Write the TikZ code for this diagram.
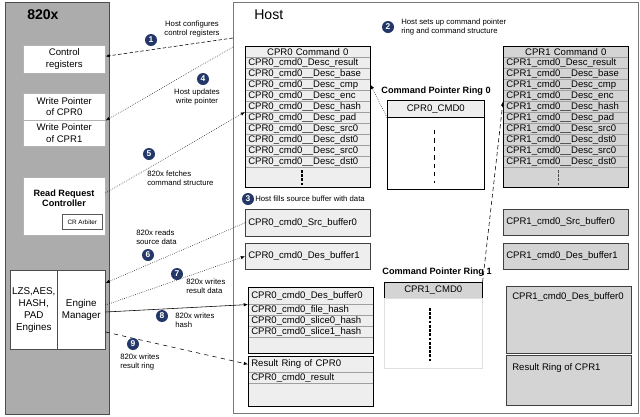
\documentclass[tikz,border=0pt]{standalone}
\usepackage{fontspec}
\setmainfont{Liberation Sans}
\usetikzlibrary{arrows.meta,calc}
\definecolor{chipgrey}{RGB}{172,172,172}
\definecolor{hostgrey}{RGB}{120,120,120}
\definecolor{cellgrey}{RGB}{238,238,238}
\definecolor{cellgreyB}{RGB}{212,212,212}
\definecolor{navy}{RGB}{35,55,105}

\begin{document}
\begin{tikzpicture}[x=0.025cm,y=-0.025cm]
    \tikzset{%
      box/.style={anchor=north west, inner sep=0pt, align=center},
      wbox/.style={box, draw=gray!60, fill=white,
        font=\fontsize{6.8}{8.2}\selectfont},
      cell/.style={anchor=north west, draw=gray!75, fill=cellgrey,
        inner xsep=0.075cm, inner ysep=0pt, minimum height=0.275cm,
        text width=2.975cm, align=left, font=\fontsize{6.8}{6.8}\selectfont},
      cellB/.style={cell, fill=cellgreyB},
      headcell/.style={cell, align=center},
      headcellB/.style={cellB, align=center},
      buf/.style={cell, draw=black!75},
      bufB/.style={cellB, draw=black!75},
      ringhead/.style={box, draw, font=\fontsize{6.8}{6.8}\selectfont},
      num/.style={circle, fill=navy, text=white, inner sep=0pt,
        minimum size=0.3cm, font=\fontsize{6}{6}\selectfont\bfseries},
      note/.style={inner sep=0pt, font=\fontsize{5.5}{6.3}\selectfont},
      ringtitle/.style={inner sep=0pt, font=\fontsize{6.5}{6.5}\selectfont\bfseries},
      ptr/.style={-{Latex[length=3pt,width=2.4pt]}},
    }
    \useasboundingbox (0,0) rectangle (640,416);

    % the two sides
    \node[box, draw=hostgrey, fill=white, minimum width=10.125cm,
      minimum height=10.275cm] (host) at (233,2) {};
    \node[anchor=west, inner sep=0pt, font=\fontsize{10}{10}\selectfont]
      (hosttitle) at (254,15) {Host};
    \node[box, draw=gray!60!black, fill=chipgrey, minimum width=2.6cm,
      minimum height=10.3cm] (chip) at (5,2) {};
    \node[anchor=west, inner sep=0pt, font=\fontsize{10}{10}\selectfont\bfseries]
      (chiptitle) at (27,15) {820x};

    % 820x side
    \node[wbox, minimum width=2.05cm, minimum height=0.7cm] (ctrl) at (23,45) {Control\\registers};
    \node[wbox, minimum width=2.05cm, minimum height=0.675cm] (wp0) at (23,93) {Write Pointer\\of CPR0};
    \node[wbox, minimum width=2.05cm, minimum height=0.65cm] (wp1) at (23,120) {Write Pointer\\of CPR1};
    \node[wbox, minimum width=2.05cm, minimum height=1.45cm] (rrc) at (23,177) {};
    \node[inner sep=0pt, align=center, font=\fontsize{6.5}{7.3}\selectfont\bfseries]
      (rrctext) at (64,198) {Read Request\\Controller};
    \node[box, draw=gray!70!black, fill=white, minimum width=1cm, minimum height=0.375cm,
      font=\fontsize{4.5}{4.5}\selectfont] (arb) at (62,214) {CR Arbiter};
    \node[wbox, draw=gray!60!black, minimum width=1.175cm, minimum height=1.975cm,
      font=\fontsize{7}{8.6}\selectfont] (eng) at (10,270) {LZS,AES,\\HASH,\\PAD\\Engines};
    \node[wbox, draw=gray!60!black, minimum width=1.2cm, minimum height=1.975cm,
      font=\fontsize{7}{8.6}\selectfont] (em) at (57,270) {Engine\\Manager};

    % CPR0 command
    \node[headcell] (c0head) at (245,46) {CPR0 Command 0};
    \node[cell] (c0result) at (245,57) {CPR0\_cmd0\_Desc\_result};
    \node[cell] (c0base) at (245,68) {CPR0\_cmd0\_\_Desc\_base};
    \node[cell] (c0cmp) at (245,79) {CPR0\_cmd0\_\_Desc\_cmp};
    \node[cell] (c0enc) at (245,90) {CPR0\_cmd0\_\_Desc\_enc};
    \node[cell] (c0hash) at (245,101) {CPR0\_cmd0\_\_Desc\_hash};
    \node[cell] (c0pad) at (245,112) {CPR0\_cmd0\_\_Desc\_pad};
    \node[cell] (c0srcA) at (245,123) {CPR0\_cmd0\_\_Desc\_src0};
    \node[cell] (c0dstA) at (245,134) {CPR0\_cmd0\_\_Desc\_dst0};
    \node[cell] (c0srcB) at (245,145) {CPR0\_cmd0\_\_Desc\_src0};
    \node[cell] (c0dstB) at (245,156) {CPR0\_cmd0\_\_Desc\_dst0};
    \node[cell, minimum height=0.5cm] (c0tail) at (245,167) {};
    \draw (c0head.north west) rectangle (c0tail.south east);
    \draw[line width=1.1pt, dash pattern=on 2pt off 1pt]
      ($(c0tail.north)+(-6,3)$) -- ($(c0tail.south)+(-6,-1)$);

    % CPR1 command
    \node[headcellB] (c1head) at (503,46) {CPR1 Command 0};
    \node[cellB] (c1result) at (503,57) {CPR1\_cmd0\_Desc\_result};
    \node[cellB] (c1base) at (503,68) {CPR1\_cmd0\_\_Desc\_base};
    \node[cellB] (c1cmp) at (503,79) {CPR1\_cmd0\_\_Desc\_cmp};
    \node[cellB] (c1enc) at (503,90) {CPR1\_cmd0\_\_Desc\_enc};
    \node[cellB] (c1hash) at (503,101) {CPR1\_cmd0\_\_Desc\_hash};
    \node[cellB] (c1pad) at (503,112) {CPR1\_cmd0\_\_Desc\_pad};
    \node[cellB] (c1srcA) at (503,123) {CPR1\_cmd0\_\_Desc\_src0};
    \node[cellB] (c1dstA) at (503,134) {CPR1\_cmd0\_\_Desc\_dst0};
    \node[cellB] (c1srcB) at (503,145) {CPR1\_cmd0\_\_Desc\_src0};
    \node[cellB] (c1dstB) at (503,156) {CPR1\_cmd0\_\_Desc\_dst0};
    \node[cellB, minimum height=0.5cm] (c1tail) at (503,167) {};
    \draw (c1head.north west) rectangle (c1tail.south east);
    \draw[gray!60!black, dash pattern=on 2pt off 1pt]
      ($(c1tail.north)+(-8,3)$) -- ($(c1tail.south)+(-8,-1)$);

    % command pointer rings
    \node[ringtitle] (r0title) at (436,91) {Command Pointer Ring 0};
    \node[ringhead, fill=cellgrey, minimum width=2.425cm, minimum height=0.425cm]
      (r0head) at (387,100) {CPR0\_CMD0};
    \node[box, draw, minimum width=2.425cm, minimum height=1.8cm] (r0) at (387,117) {};
    \draw[dashed] ($(r0.north)+(-1.5,13)$) -- ($(r0.south)+(-1.5,-7)$);

    \node[ringtitle] (r1title) at (437,272) {Command Pointer Ring 1};
    \node[ringhead, fill=cellgreyB, minimum width=2.45cm, minimum height=0.4cm]
      (r1head) at (384,282) {CPR1\_CMD0};
    \node[box, draw=gray!25, minimum width=2.45cm, minimum height=1.75cm] (r1) at (384,298) {};
    \draw[line width=1.2pt, dash pattern=on 2pt off 1pt]
      ($(r1.north)+(-3,10)$) -- ($(r1.south)+(-3,-8)$);

    % CPR0 buffers
    \node[buf, minimum height=0.675cm] (s0) at (245,209) {CPR0\_cmd0\_Src\_buffer0};
    \node[buf, minimum height=0.65cm] (d1) at (245,243) {CPR0\_cmd0\_Des\_buffer1};
    \node[cell, minimum height=0.425cm] (b0head) at (248,287) {CPR0\_cmd0\_Des\_buffer0};
    \node[cell] (b0file) at (248,304) {CPR0\_cmd0\_file\_hash};
    \node[cell] (b0sliceA) at (248,315) {CPR0\_cmd0\_slice0\_hash};
    \node[cell] (b0sliceB) at (248,326) {CPR0\_cmd0\_slice1\_hash};
    \node[cell, minimum height=0.4cm] (b0tail) at (248,337) {};
    \draw (b0head.north west) rectangle (b0tail.south east);
    \node[cell, minimum height=0.4cm] (rr0head) at (248,356) {Result Ring of CPR0};
    \node[cell] (rr0row) at (248,372) {CPR0\_cmd0\_result};
    \node[cell, minimum height=0.575cm] (rr0tail) at (248,383) {};
    \draw (rr0head.north west) rectangle (rr0tail.south east);

    % CPR1 buffers
    \node[bufB, minimum height=0.65cm] (s1) at (503,209) {CPR1\_cmd0\_Src\_buffer0};
    \node[bufB, minimum height=0.65cm] (e1) at (503,243) {CPR1\_cmd0\_Des\_buffer1};
    \node[bufB, minimum height=1.675cm] (b1) at (506,286) {};
    \node[anchor=north west, inner sep=0pt, font=\fontsize{6.8}{6.8}\selectfont]
      (b1text) at ($(b1.north west)+(6,6)$) {CPR1\_cmd0\_Des\_buffer0};
    \node[bufB, minimum height=1.25cm] (rr1) at (506,355) {};
    \node[anchor=north west, inner sep=0pt, font=\fontsize{6.8}{6.8}\selectfont]
      (rr1text) at ($(rr1.north west)+(6,8)$) {Result Ring of CPR1};

    % steps
    \coordinate (h1) at (233,38);
    \coordinate (h4) at (233,47);
    \draw[ptr, dash pattern=on 2.5pt off 1.5pt] (h1) -- ($(ctrl.east)+(0,-3)$);
    \draw[ptr, densely dotted] (h4) -- (wp0.south east);
    \draw[ptr, densely dotted] ($(rrc.north east)+(0,16)$) -- (c0pad.north west);
    \draw[ptr, densely dotted] (s0.west) -- ($(em.north east)+(0,13)$);
    \draw[ptr, densely dotted] ($(em.north east)+(0,35)$) -- (d1.west);
    \draw[ptr] ($(em.north east)+(0,42)$) -- (b0head.south west);
    \draw[ptr, dashed] ($(em.north east)+(0,62)$) -- (rr0head.west);
    \draw[ptr, densely dotted] (r0head.south west) -- (c0cmp.east);
    \draw[ptr, dash pattern=on 3pt off 2pt] (r1head.north east) -- (c1enc.south west);

    \node[num] (n1) at (151,40) {1};
    \node[note, align=center] (t1) at (192,29) {Host configures\\control registers};
    \node[num] (n2) at (388,27) {2};
    \node[note, anchor=west, align=left] (t2) at (401,27)
      {Host sets up command pointer\\ring and command structure};
    \node[num] (n3) at (248,199) {3};
    \node[note, anchor=west] (t3) at (255,199) {Host fills source buffer with data};
    \node[num] (n4) at (203,79) {4};
    \node[note, align=center] (t4) at (197,97) {Host updates\\write pointer};
    \node[num] (n5) at (149,154) {5};
    \node[note, anchor=west, align=left] (t5) at (147,178) {820x fetches\\command structure};
    \node[num] (n6) at (148,255) {6};
    \node[note, anchor=west, align=left] (t6) at (136,237) {820x reads\\source data};
    \node[num] (n7) at (177,274) {7};
    \node[note, anchor=west, align=left] (t7) at (186,286) {820x writes\\result data};
    \node[num] (n8) at (162,316) {8};
    \node[note, anchor=west, align=left] (t8) at (175,320) {820x writes\\hash};
    \node[num] (n9) at (133,344) {9};
    \node[note, anchor=west, align=left] (t9) at (120,362) {820x writes\\result ring};
\end{tikzpicture}
\end{document}
